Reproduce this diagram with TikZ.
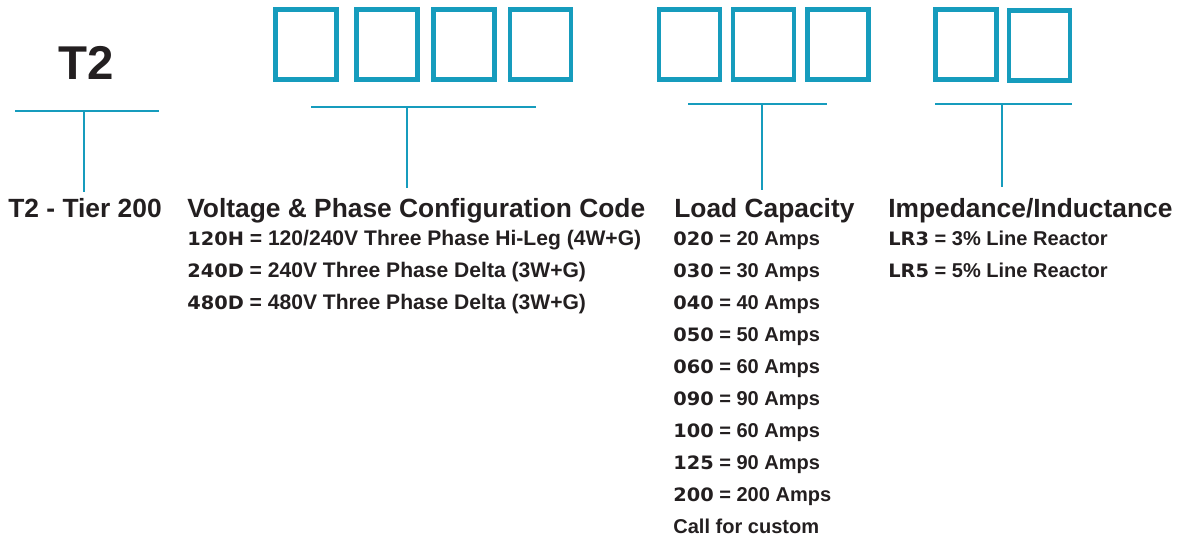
\documentclass[tikz,border=0pt]{standalone}
\usepackage{fontspec}
\setmainfont{Liberation Sans}
\newfontfamily\codefont[FakeStretch=1.05]{DejaVu Sans Bold}
\usepackage{xcolor}
\definecolor{partblue}{RGB}{22,156,189}
\definecolor{partink}{RGB}{35,31,32}
\newcommand{\code}[1]{{\fontsize{10.5}{12}\codefont #1}}

\tikzset{
  digitbox/.style={draw=partblue,line width=2.8pt,minimum width=1.22cm,minimum height=1.4cm,inner sep=0pt},
  bracket/.style={draw=partblue,line width=1.1pt},
  heading/.style={anchor=base west,inner sep=0pt,text=partink,font=\fontsize{15}{18}\selectfont\bfseries},
  entry/.style={anchor=base west,inner sep=0pt,text=partink,font=\fontsize{11.4}{14}\selectfont\bfseries},
  wideentry/.style={entry,font=\fontsize{12}{14}\selectfont\bfseries}
}

\begin{document}
\begin{tikzpicture}[x=0.02cm,y=-0.02cm]
    \useasboundingbox (0,0) rectangle (1181,541);
    % prefix
    \node[text=partink,font=\fontsize{27}{32}\selectfont\bfseries] (prefix) at (86,63) {T2};
    % code boxes
    \node[digitbox] (v1) at (306,44.5) {};
    \node[digitbox] (v2) at (387,44.5) {};
    \node[digitbox] (v3) at (464,44.5) {};
    \node[digitbox] (v4) at (540.5,44.5) {};
    \node[digitbox] (a1) at (689.5,44.5) {};
    \node[digitbox] (a2) at (763.5,44.5) {};
    \node[digitbox] (a3) at (838,44.5) {};
    \node[digitbox] (r1) at (966,44.5) {};
    \node[digitbox] (r2) at (1039.5,45.5) {};
    % brackets
    \coordinate (tl) at (15,111);    \coordinate (tr) at (159,111);
    \coordinate (tt) at (84,111);    \coordinate (tb) at (84,192);
    \coordinate (vl) at (311,107);   \coordinate (vr) at (536,107);
    \coordinate (vt) at (407,107);   \coordinate (vb) at (407,188);
    \coordinate (al) at (688,104);   \coordinate (ar) at (827,104);
    \coordinate (at) at (762,104);   \coordinate (ab) at (762,190);
    \coordinate (rl) at (935,104);   \coordinate (rr) at (1072,104);
    \coordinate (rt) at (1002,104);  \coordinate (rb) at (1002,187);
    \draw[bracket] (tl) -- (tr) (tt) -- (tb);
    \draw[bracket] (vl) -- (vr) (vt) -- (vb);
    \draw[bracket] (al) -- (ar) (at) -- (ab);
    \draw[bracket] (rl) -- (rr) (rt) -- (rb);
    % headings
    \node[heading] (tier) at (8,217) {T2 - Tier 200};
    \node[heading] (volt) at (187,217) {Voltage \& Phase Configuration Code};
    \node[heading] (load) at (674,217) {Load Capacity};
    \node[heading] (imp) at (888,217) {Impedance/Inductance};
    % voltage codes
    \node[wideentry] (v120) at (187,245) {\code{120H} = 120/240V Three Phase Hi-Leg (4W+G)};
    \node[wideentry] (v240) at (187,277) {\code{240D} = 240V Three Phase Delta (3W+G)};
    \node[wideentry] (v480) at (187,309) {\code{480D} = 480V Three Phase Delta (3W+G)};
    % load codes
    \foreach \c/\amp [count=\i] in {020/20,030/30,040/40,050/50,060/60,090/90,100/60,125/90,200/200}
        \node[entry] (load\i) at (673,213+32*\i) {\code{\c} = \amp{} Amps};
    \node[entry] (custom) at (673,533) {Call for custom};
    % reactor codes
    \node[entry] (lr3) at (888,245) {\code{LR3} = 3\% Line Reactor};
    \node[entry] (lr5) at (888,277) {\code{LR5} = 5\% Line Reactor};
\end{tikzpicture}
\end{document}
